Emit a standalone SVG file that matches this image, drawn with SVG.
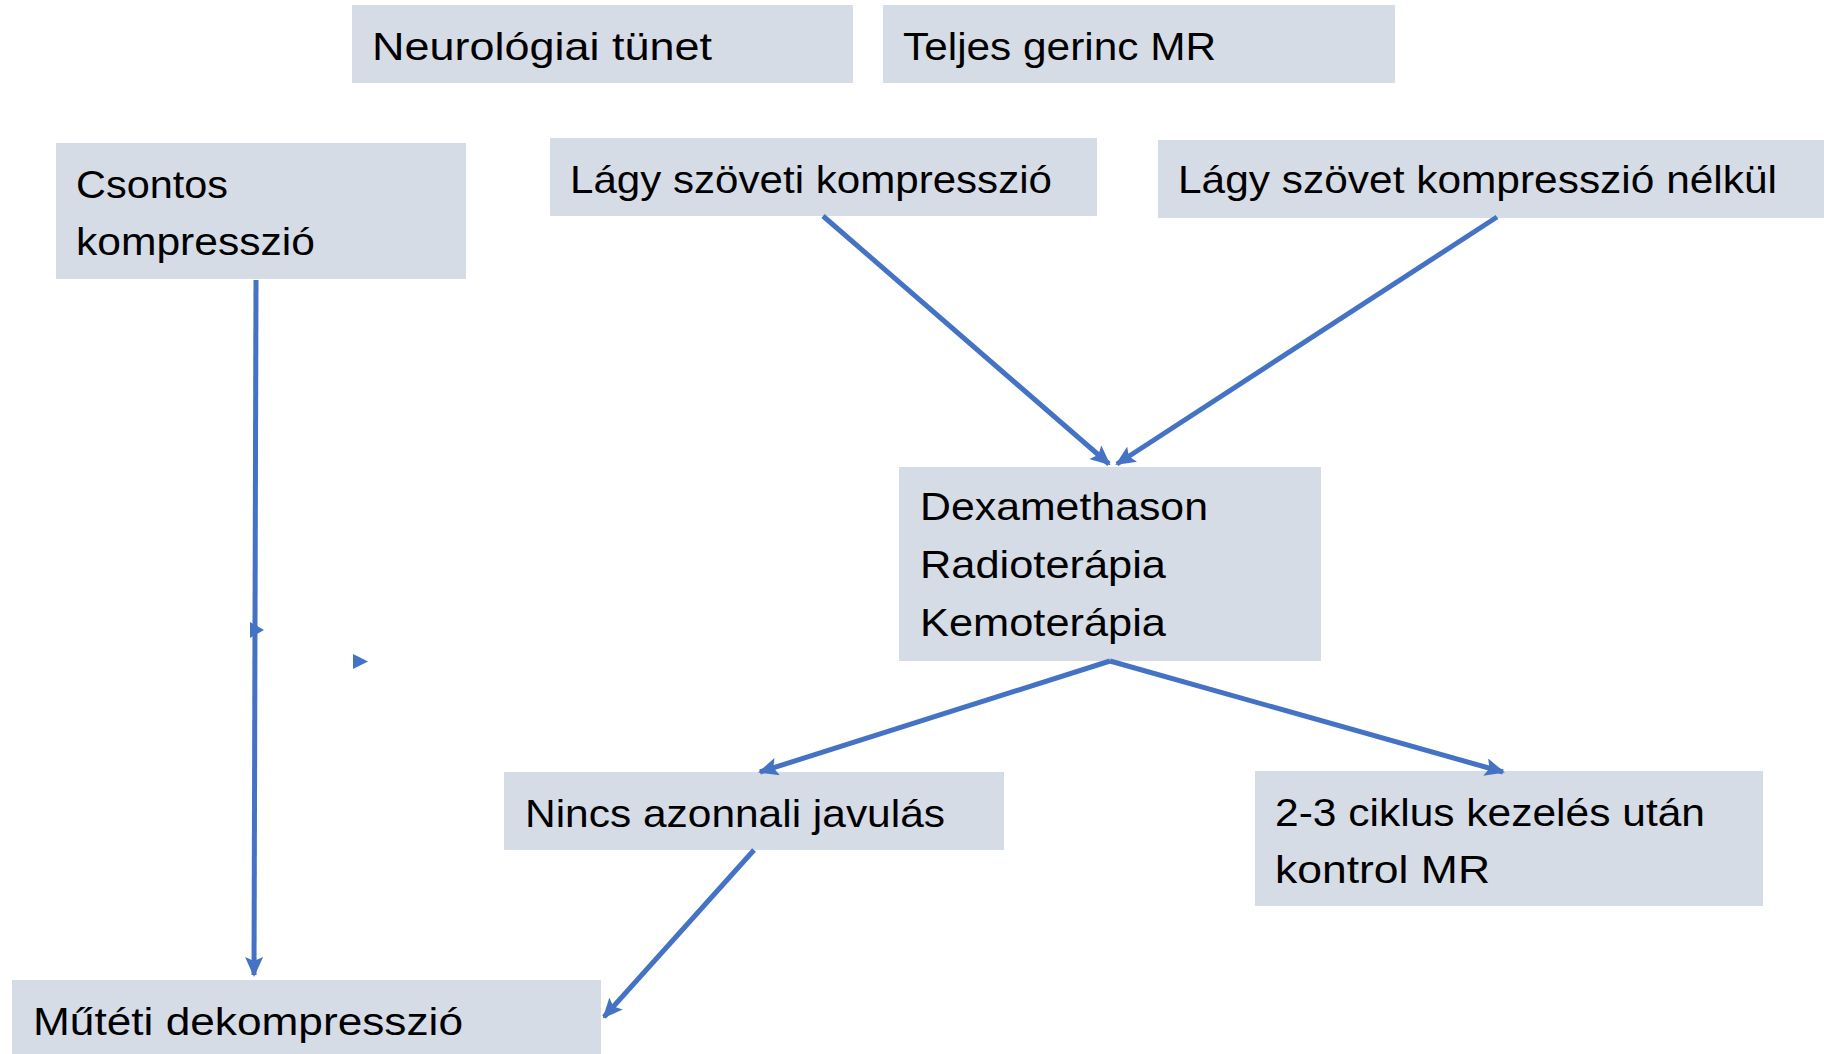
<svg xmlns="http://www.w3.org/2000/svg" width="1824" height="1054" viewBox="0 0 1824 1054">
<style>
.box{fill:#D6DCE5}
.t{font-family:"Liberation Sans",Arial,sans-serif;font-size:39px;fill:#000}
.c{stroke:#4472C4;stroke-width:5;fill:none;marker-end:url(#ah)}
.stray{fill:#4472C4}
</style>
<defs>
<marker id="ah" markerUnits="userSpaceOnUse" markerWidth="20" markerHeight="18" refX="18" refY="9" orient="auto">
<path d="M0,0 L20,9 L0,18 L4,9 Z" fill="#4472C4"/>
</marker>
</defs>
<rect width="1824" height="1054" fill="#fff"/>
<g id="n-neuro"><rect class="box" x="352" y="5" width="501" height="78"/><text class="t" x="372" y="60" textLength="340" lengthAdjust="spacingAndGlyphs">Neurológiai tünet</text></g>
<g id="n-mr"><rect class="box" x="883" y="5" width="512" height="78"/><text class="t" x="903" y="60" textLength="313" lengthAdjust="spacingAndGlyphs">Teljes gerinc MR</text></g>
<g id="n-csont"><rect class="box" x="56" y="143" width="410" height="136"/><text class="t" x="76" y="198" textLength="152" lengthAdjust="spacingAndGlyphs">Csontos</text><text class="t" x="76" y="255" textLength="239" lengthAdjust="spacingAndGlyphs">kompresszió</text></g>
<g id="n-lagy"><rect class="box" x="550" y="138" width="547" height="78"/><text class="t" x="570" y="193" textLength="482" lengthAdjust="spacingAndGlyphs">Lágy szöveti kompresszió</text></g>
<g id="n-nelkul"><rect class="box" x="1158" y="140" width="666" height="78"/><text class="t" x="1178" y="193" textLength="599" lengthAdjust="spacingAndGlyphs">Lágy szövet kompresszió nélkül</text></g>
<g id="n-dexa"><rect class="box" x="899" y="467" width="422" height="194"/><text class="t" x="920" y="520" textLength="288" lengthAdjust="spacingAndGlyphs">Dexamethason</text><text class="t" x="920" y="578" textLength="246" lengthAdjust="spacingAndGlyphs">Radioterápia</text><text class="t" x="920" y="636" textLength="246" lengthAdjust="spacingAndGlyphs">Kemoterápia</text></g>
<g id="n-nincs"><rect class="box" x="504" y="772" width="500" height="78"/><text class="t" x="525" y="827" textLength="420" lengthAdjust="spacingAndGlyphs">Nincs azonnali javulás</text></g>
<g id="n-ciklus"><rect class="box" x="1255" y="771" width="508" height="135"/><text class="t" x="1275" y="826" textLength="430" lengthAdjust="spacingAndGlyphs">2-3 ciklus kezelés után</text><text class="t" x="1275" y="883" textLength="215" lengthAdjust="spacingAndGlyphs">kontrol MR</text></g>
<g id="n-mutet"><rect class="box" x="12" y="980" width="589" height="74"/><text class="t" x="33" y="1035" textLength="430" lengthAdjust="spacingAndGlyphs">Műtéti dekompresszió</text></g>
<g id="connectors">
<line class="c" x1="256" y1="280" x2="254" y2="975"/>
<line class="c" x1="823" y1="216" x2="1109" y2="464"/>
<line class="c" x1="1497" y1="217" x2="1117" y2="464"/>
<line class="c" x1="1110" y1="661" x2="760" y2="772"/>
<line class="c" x1="1110" y1="661" x2="1503" y2="772"/>
<line class="c" x1="754" y1="850" x2="604" y2="1017"/>
<polygon class="stray" points="250,622 264,630 250,638"/>
<polygon class="stray" points="353,654 368,661.5 353,669"/>
</g>
</svg>
